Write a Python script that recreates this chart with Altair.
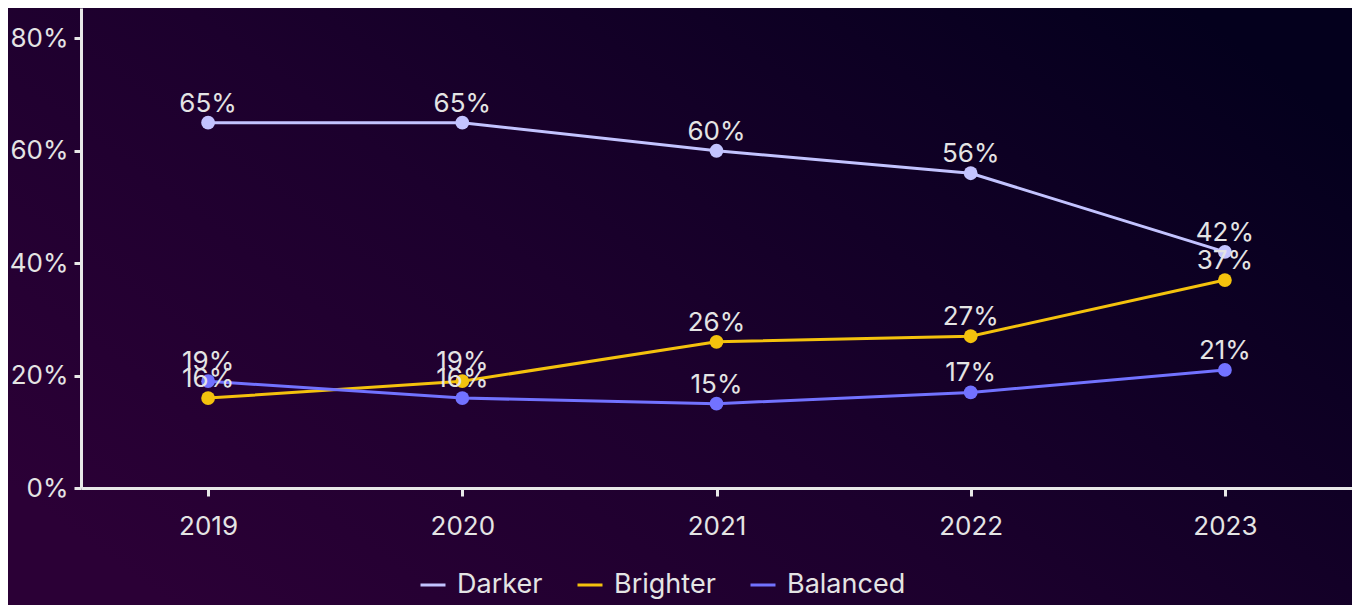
import altair as alt
import pandas as pd

years = ["2019", "2020", "2021", "2022", "2023"]
series = ["Darker", "Brighter", "Balanced"]
darker = [65, 65, 60, 56, 42]
brighter = [16, 19, 26, 27, 37]
balanced = [19, 16, 15, 17, 21]
colors = ["#c3c3ff", "#f4c20d", "#7272ff"]
y_ticks = [0, 20, 40, 60, 80]

rows = []
for s, vals in zip(series, [darker, brighter, balanced]):
    for yr, v in zip(years, vals):
        rows.append({"year": yr, "series": s, "value": v})
df = pd.DataFrame(rows)

W, H = 1271, 480
PL, PB = 73, 117
FONT = "Inter"
TXT = "#e4e4e4"
AX = "#e8e8e8"

x_enc = alt.X(
    "year:O",
    scale=alt.Scale(type="point", padding=0.5),
    axis=alt.Axis(
        title=None, labelAngle=0, grid=False, domainColor=AX, domainWidth=3,
        tickColor=AX, tickWidth=3, tickSize=8, labelFontSize=26, labelFont=FONT,
        labelColor=TXT, labelPadding=17, zindex=1,
    ),
)
y_enc = alt.Y(
    "value:Q",
    scale=alt.Scale(domain=[0, 85.4], nice=False),
    axis=alt.Axis(
        title=None, values=y_ticks, labelExpr="datum.value + '%'", grid=False,
        domainColor=AX, domainWidth=3, tickColor=AX, tickWidth=3, tickSize=7,
        labelFontSize=26, labelFont=FONT, labelColor=TXT, labelPadding=6, zindex=1,
    ),
)

bg = alt.Chart(pd.DataFrame({"a": [0]})).mark_rect(
    color=alt.LinearGradient(
        gradient="linear",
        stops=[
            alt.GradientStop(color="#2b0036", offset=0),
            alt.GradientStop(color="#1c002d", offset=0.45),
            alt.GradientStop(color="#04001d", offset=1),
        ],
        x1=0, y1=0.8, x2=1, y2=0.2,
    )
).encode(
    x=alt.value(-PL), x2=alt.value(W), y=alt.value(0), y2=alt.value(H + PB)
)

lines = alt.Chart(df).mark_line(
    strokeWidth=3,
    point=alt.OverlayMarkDef(filled=True, size=190, opacity=1),
).encode(
    x=x_enc,
    y=y_enc,
    color=alt.Color(
        "series:N",
        sort=series,
        scale=alt.Scale(domain=series, range=colors),
        legend=alt.Legend(
            title=None, orient="none", legendX=338, legendY=563,
            direction="horizontal", symbolType="stroke", symbolSize=625,
            symbolStrokeWidth=3, labelFontSize=27, labelFont=FONT,
            labelColor=TXT, labelOffset=10, columnPadding=28, zindex=1,
        ),
    ),
    detail="series:N",
)

labels = alt.Chart(df).transform_calculate(
    lbl="datum.value + '%'"
).mark_text(
    fontSize=26, font=FONT, color=TXT, dy=-19, baseline="middle", align="center"
).encode(x=x_enc, y=y_enc, text="lbl:N")

chart = alt.layer(bg, lines, labels).properties(
    width=W,
    height=H,
    padding={"left": PL, "top": 0, "right": 0, "bottom": PB},
    autosize=alt.AutoSizeParams(type="none"),
    background="#1a002b",
).configure_view(strokeWidth=0)

chart.save("out.html", embed_options={"renderer": "svg", "actions": False})
